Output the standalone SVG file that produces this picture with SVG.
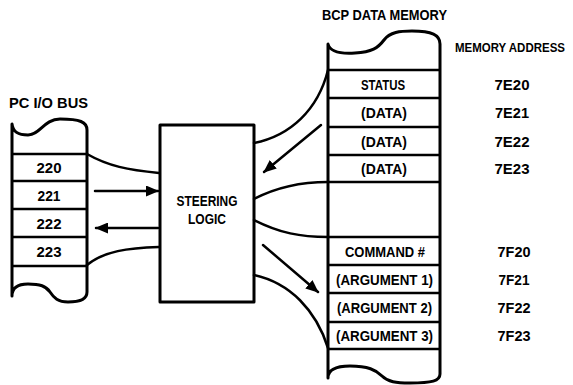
<svg xmlns="http://www.w3.org/2000/svg" width="573" height="385" viewBox="0 0 573 385">
<style>
  .outline { fill: #fff; stroke: #000; stroke-width: 3; stroke-linejoin: round; }
  .row { stroke: #000; stroke-width: 2.5; fill: none; }
  .conn { stroke: #000; stroke-width: 2.5; fill: none; stroke-linecap: round; }
  text { font-family: "Liberation Sans", Arial, sans-serif; font-weight: bold; font-size: 15px; fill: #000; text-anchor: middle; }
</style>
<defs>
  <marker id="arrow" markerUnits="userSpaceOnUse" markerWidth="13" markerHeight="11" refX="12" refY="5.5" orient="auto">
    <path d="M0,0 L13,5.5 L0,11 Z" fill="#000"/>
  </marker>
</defs>

<g id="pc-io-bus">
  <text x="48.5" y="108" textLength="79" lengthAdjust="spacingAndGlyphs">PC I/O BUS</text>
  <path class="outline" d="M12,124 C13,132 18,135 28,135 C40,135 44,119 60,119 C80,119 87,122 87,130 L87,292 C87,299 80,302 68,302 C58,302 54,298 50,292 C46,286 40,284 28,284 C18,284 12,288 12,296 Z"/>
  <line class="row" x1="12" y1="154" x2="87" y2="154"/>
  <line class="row" x1="12" y1="181" x2="87" y2="181"/>
  <line class="row" x1="12" y1="209" x2="87" y2="209"/>
  <line class="row" x1="12" y1="237" x2="87" y2="237"/>
  <line class="row" x1="12" y1="266" x2="87" y2="266"/>
  <text x="49" y="173" textLength="25" lengthAdjust="spacingAndGlyphs">220</text>
  <text x="49" y="200.5" textLength="23" lengthAdjust="spacingAndGlyphs">221</text>
  <text x="49" y="228.5" textLength="25" lengthAdjust="spacingAndGlyphs">222</text>
  <text x="49" y="257" textLength="25" lengthAdjust="spacingAndGlyphs">223</text>
</g>

<g id="steering-logic">
  <rect class="outline" x="160" y="125" width="94" height="177"/>
  <text x="207" y="205.5" textLength="61" lengthAdjust="spacingAndGlyphs">STEERING</text>
  <text x="207" y="223.5" textLength="38" lengthAdjust="spacingAndGlyphs">LOGIC</text>
</g>

<g id="bcp-data-memory">
  <text x="384.5" y="20" textLength="125" lengthAdjust="spacingAndGlyphs">BCP DATA MEMORY</text>
  <path class="outline" d="M328,44 C330,52 340,54 355,53 C372,52 378,48 384,40 C390,32 400,31 412,31 C432,31 440,35 440,44 L440,374 C440,381 432,383 410,383 C396,383 388,382 382,376 C376,370 368,366 350,366 C335,366 328,370 328,378 Z"/>
  <line class="row" x1="328" y1="70" x2="440" y2="70"/>
  <line class="row" x1="328" y1="98" x2="440" y2="98"/>
  <line class="row" x1="328" y1="127" x2="440" y2="127"/>
  <line class="row" x1="328" y1="155" x2="440" y2="155"/>
  <line class="row" x1="328" y1="182" x2="440" y2="182"/>
  <line class="row" x1="328" y1="237" x2="440" y2="237"/>
  <line class="row" x1="328" y1="265" x2="440" y2="265"/>
  <line class="row" x1="328" y1="293" x2="440" y2="293"/>
  <line class="row" x1="328" y1="322" x2="440" y2="322"/>
  <line class="row" x1="328" y1="349" x2="440" y2="349"/>
  <text x="383" y="89.5" textLength="44" lengthAdjust="spacingAndGlyphs">STATUS</text>
  <text x="384" y="118" textLength="46" lengthAdjust="spacingAndGlyphs">(DATA)</text>
  <text x="384" y="146.5" textLength="46" lengthAdjust="spacingAndGlyphs">(DATA)</text>
  <text x="384" y="174" textLength="46" lengthAdjust="spacingAndGlyphs">(DATA)</text>
  <text x="385" y="256.5" textLength="80" lengthAdjust="spacingAndGlyphs">COMMAND #</text>
  <text x="384.5" y="284.5" textLength="97" lengthAdjust="spacingAndGlyphs">(ARGUMENT 1)</text>
  <text x="384.5" y="313" textLength="95" lengthAdjust="spacingAndGlyphs">(ARGUMENT 2)</text>
  <text x="384.5" y="341" textLength="97" lengthAdjust="spacingAndGlyphs">(ARGUMENT 3)</text>
</g>

<g id="memory-address">
  <text x="510" y="52" style="font-size:12px" textLength="110" lengthAdjust="spacingAndGlyphs">MEMORY ADDRESS</text>
  <text x="512" y="89.5" textLength="35" lengthAdjust="spacingAndGlyphs">7E20</text>
  <text x="512" y="118" textLength="34" lengthAdjust="spacingAndGlyphs">7E21</text>
  <text x="512" y="146.5" textLength="35" lengthAdjust="spacingAndGlyphs">7E22</text>
  <text x="512" y="174" textLength="35" lengthAdjust="spacingAndGlyphs">7E23</text>
  <text x="514" y="256.5" textLength="33" lengthAdjust="spacingAndGlyphs">7F20</text>
  <text x="514" y="284.5" textLength="31" lengthAdjust="spacingAndGlyphs">7F21</text>
  <text x="514" y="313" textLength="33" lengthAdjust="spacingAndGlyphs">7F22</text>
  <text x="514" y="341" textLength="33" lengthAdjust="spacingAndGlyphs">7F23</text>
</g>

<g id="connectors">
  <path class="conn" d="M87,154 C108,166 128,170 159,173"/>
  <path class="conn" d="M95,191 L158,191" marker-end="url(#arrow)"/>
  <path class="conn" d="M158,228 L96,228" marker-end="url(#arrow)"/>
  <path class="conn" d="M87,265 C104,251 128,248 159,247"/>
  <path class="conn" d="M254,143 C290,136 318,110 328,70"/>
  <path class="conn" d="M321,125 L264,172" marker-end="url(#arrow)"/>
  <path class="conn" d="M254,199 C275,188 298,182 328,182"/>
  <path class="conn" d="M254,220 C280,233 300,237 328,237"/>
  <path class="conn" d="M263,245 L318,292" marker-end="url(#arrow)"/>
  <path class="conn" d="M254,275 C290,283 316,310 328,348"/>
</g>
</svg>
